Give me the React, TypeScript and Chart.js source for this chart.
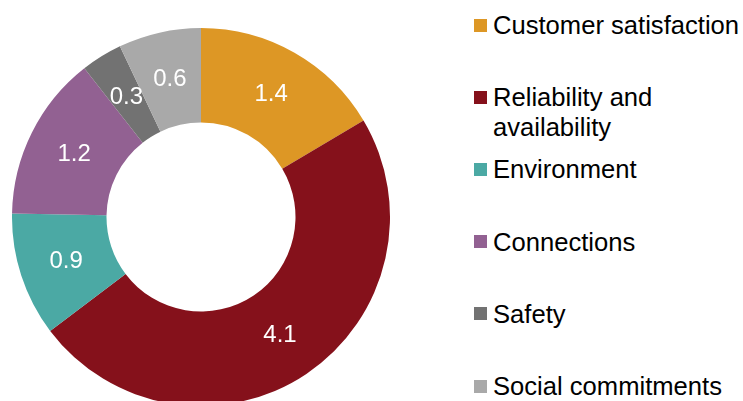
import React, { useEffect, useRef } from "react";
import { Chart, registerables } from "chart.js";

Chart.register(...registerables);

const categories = [
  "Customer satisfaction",
  "Reliability and availability",
  "Environment",
  "Connections",
  "Safety",
  "Social commitments",
];
const values = [1.4, 4.1, 0.9, 1.2, 0.3, 0.6];
const colors = ["#DD9725", "#85111B", "#4BA9A4", "#926192", "#727272", "#A9A9A9"];

const FONT = "'Liberation Sans', Arial, sans-serif";

const sliceLabels = {
  id: "sliceLabels",
  afterDatasetsDraw(chart: any) {
    const ctx = chart.ctx;
    const meta = chart.getDatasetMeta(0);
    ctx.save();
    ctx.fillStyle = "#FFFFFF";
    ctx.font = `24px ${FONT}`;
    ctx.textAlign = "center";
    ctx.textBaseline = "middle";
    meta.data.forEach((arc: any, i: number) => {
      const p = arc.tooltipPosition();
      ctx.fillText(values[i].toFixed(1), p.x, p.y + 1);
    });
    ctx.restore();
  },
};

export default function App() {
  const ref = useRef<HTMLCanvasElement | null>(null);
  useEffect(() => {
    if (!ref.current) return;
    const chart = new Chart(ref.current, {
      type: "doughnut",
      data: {
        labels: categories,
        datasets: [
          {
            data: values,
            backgroundColor: colors,
            borderWidth: 0,
          },
        ],
      },
      options: {
        animation: false,
        responsive: false,
        maintainAspectRatio: false,
        cutout: "50%",
        layout: { padding: 0 },
        plugins: {
          legend: { display: false },
          tooltip: { enabled: false },
        },
      },
      plugins: [sliceLabels],
    });
    return () => chart.destroy();
  }, []);

  return (
    <div
      style={{
        position: "fixed",
        left: 0,
        top: 0,
        width: 743,
        height: 401,
        overflow: "hidden",
        background: "#FFFFFF",
      }}
    >
      <canvas
        ref={ref}
        width={378}
        height={378}
        style={{ position: "absolute", left: 12, top: 28, width: 378, height: 378 }}
      />
      {categories.map((c, i) => {
        const top = 25 + 72.2 * i - 15;
        return (
          <div key={c} style={{ position: "absolute", left: 474, top, width: 269 }}>
            <div
              style={{
                position: "absolute",
                left: 0,
                top: 8.5,
                width: 13,
                height: 13,
                background: colors[i],
              }}
            />
            <div
              style={{
                position: "absolute",
                left: 19,
                top: 0,
                width: 250,
                fontFamily: FONT,
                fontSize: 25.6,
                lineHeight: "30px",
                color: "#000000",
              }}
            >
              {c}
            </div>
          </div>
        );
      })}
    </div>
  );
}
